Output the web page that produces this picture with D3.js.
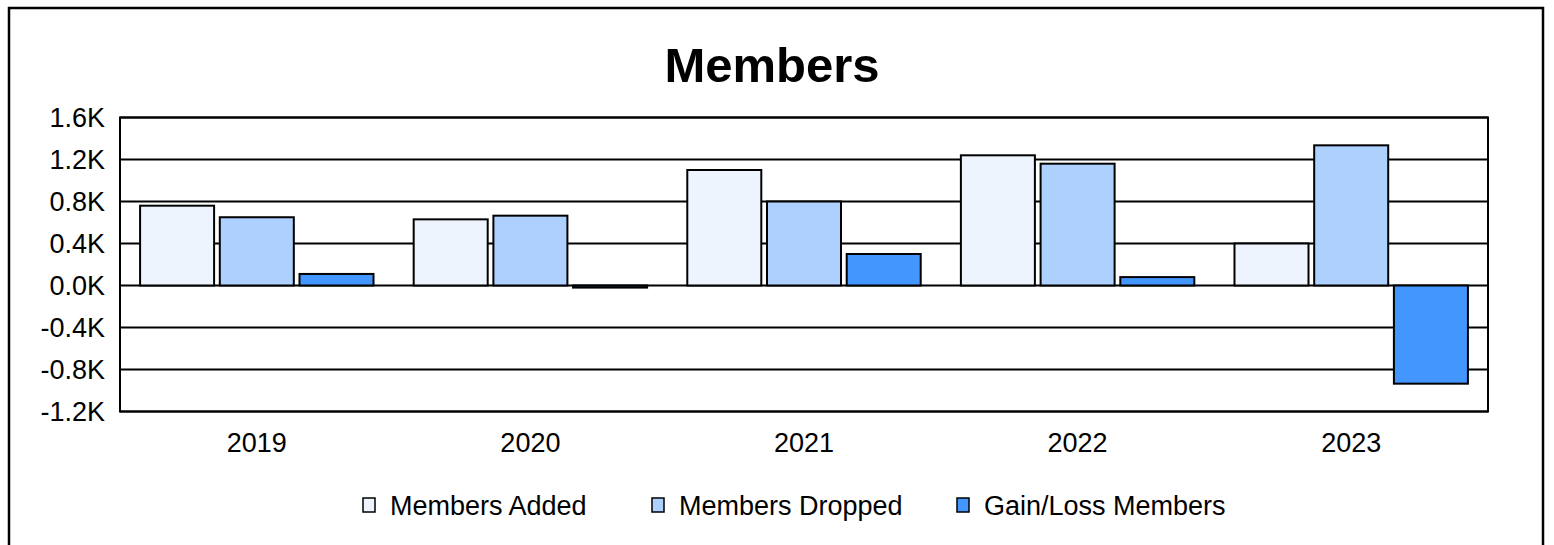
<!DOCTYPE html>
<html>
<head>
<meta charset="UTF-8">
<title>Members</title>
<script src="https://d3js.org/d3.v7.min.js"></script>
<style>
  body { margin: 0; background: #fff; font-family: Arial, "Liberation Sans", sans-serif; }
  svg text { fill: #000; }
</style>
</head>
<body>
<div id="chart"></div>
<script>
const years = ["2019", "2020", "2021", "2022", "2023"];
const seriesNames = ["Members Added", "Members Dropped", "Gain/Loss Members"];
const membersAdded = [760, 630, 1100, 1240, 400];
const membersDropped = [650, 665, 800, 1160, 1335];
const gainLoss = [110, -20, 300, 80, -935];
const yTicks = [-1200, -800, -400, 0, 400, 800, 1200, 1600];
const colors = ["#eef4fe", "#add0ff", "#4496ff"];

const width = 1554, height = 545;
const margin = { top: 117.5, right: 66, bottom: 133.5, left: 120 };

const svg = d3.select("#chart").append("svg")
  .attr("width", width).attr("height", height);

// outer frame
svg.append("rect")
  .attr("x", 9).attr("y", 8)
  .attr("width", 1534).attr("height", 560)
  .attr("fill", "none").attr("stroke", "#000").attr("stroke-width", 2.5);

svg.append("text")
  .attr("x", 772).attr("y", 82)
  .attr("text-anchor", "middle")
  .style("font-size", "49px").style("font-weight", "bold")
  .text("Members");

const x = d3.scaleBand().domain(years)
  .range([margin.left, width - margin.right]);
const xInner = d3.scaleBand().domain(seriesNames)
  .range([0, x.bandwidth()]).paddingInner(0.0715).paddingOuter(0.252);
const y = d3.scaleLinear().domain([-1200, 1600])
  .range([height - margin.bottom, margin.top]);

const fmt = d => (d / 1000).toFixed(1) + "K";

// gridlines
svg.append("g")
  .selectAll("line").data(yTicks).join("line")
  .attr("x1", margin.left).attr("x2", width - margin.right)
  .attr("y1", d => y(d)).attr("y2", d => y(d))
  .attr("stroke", "#000").attr("stroke-width", 2);

// y axis labels
const yAxis = svg.append("g")
  .attr("transform", `translate(${margin.left},0)`)
  .call(d3.axisLeft(y).tickValues(yTicks).tickFormat(fmt).tickSize(0).tickPadding(15));
yAxis.select(".domain").remove();
yAxis.selectAll("text").style("font-size", "27px").style("font-family", "Arial, 'Liberation Sans', sans-serif");

// x axis labels
const xAxis = svg.append("g")
  .attr("transform", `translate(0,${height - margin.bottom})`)
  .call(d3.axisBottom(x).tickSize(0).tickPadding(21));
xAxis.select(".domain").remove();
xAxis.selectAll("text").style("font-size", "27px").style("font-family", "Arial, 'Liberation Sans', sans-serif");

const rows = years.map((yr, i) => ({
  year: yr,
  values: [membersAdded[i], membersDropped[i], gainLoss[i]]
}));

const groups = svg.append("g").selectAll("g").data(rows).join("g")
  .attr("transform", d => `translate(${x(d.year)},0)`);

groups.selectAll("rect")
  .data(d => d.values.map((v, j) => ({ key: seriesNames[j], v, j })))
  .join("rect")
  .attr("x", d => xInner(d.key))
  .attr("width", xInner.bandwidth())
  .attr("y", d => y(Math.max(0, d.v)))
  .attr("height", d => Math.abs(y(d.v) - y(0)))
  .attr("fill", d => colors[d.j])
  .attr("stroke", "#000").attr("stroke-width", 2);

// plot frame
svg.append("rect")
  .attr("x", margin.left).attr("y", margin.top)
  .attr("width", width - margin.left - margin.right)
  .attr("height", height - margin.top - margin.bottom)
  .attr("fill", "none").attr("stroke", "#000").attr("stroke-width", 2);

// legend
const legendX = [363, 652, 957];
const legend = svg.append("g").selectAll("g").data(seriesNames).join("g")
  .attr("transform", (d, i) => `translate(${legendX[i]},498)`);
legend.append("rect")
  .attr("width", 12).attr("height", 14)
  .attr("fill", (d, i) => colors[i])
  .attr("stroke", "#000").attr("stroke-width", 1.5);
legend.append("text")
  .attr("x", 27).attr("y", 16.5)
  .style("font-size", "27px")
  .text(d => d);
</script>
</body>
</html>
